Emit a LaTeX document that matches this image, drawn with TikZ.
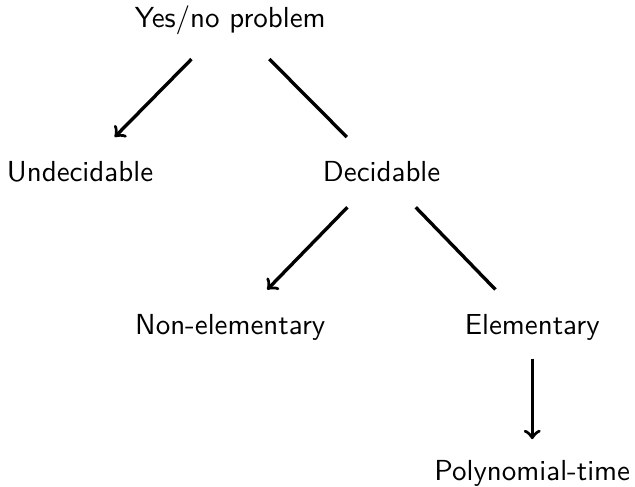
\documentclass[tikz,border=0pt]{standalone}
\begin{document}
\begin{tikzpicture}[
  every node/.style={font=\sffamily\fontsize{10.35}{12}\selectfont, anchor=base},
  lien/.style={very thick, shorten <=7.5pt, shorten >=7.5pt}
]
\useasboundingbox (0,0) rectangle (7.97,-6.11);
\node (yes) at (2.89,-0.339) {Yes/no problem};
\node (undec) at (1.004,-2.284) {Undecidable};
\node (dec) at (4.79,-2.284) {Decidable};
\node (nonel) at (2.89,-4.20) {Non-elementary}; % même colonne que yes
\node (elem) at (6.68,-4.20) {Elementary};
\node (poly) at (6.68,-6.03) {Polynomial-time};
\draw[lien,->] (yes) -- (undec);
\draw[lien] (yes) -- (dec);
\draw[lien,->] (dec) -- (nonel);
\draw[lien] (dec) -- (elem);
\draw[very thick,->,shorten <=3pt,shorten >=4pt] (elem) -- (poly);
\end{tikzpicture}
\end{document}
